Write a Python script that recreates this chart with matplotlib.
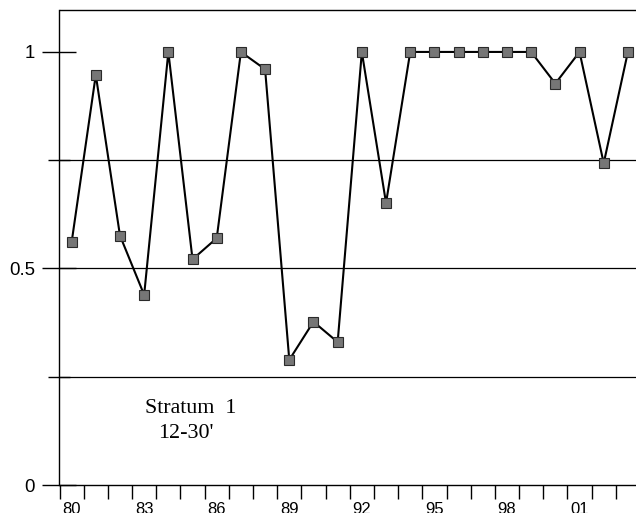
import matplotlib.pyplot as plt
from matplotlib.ticker import FixedLocator
import numpy as np

# survey years, one category per year
years = ["80", "81", "82", "83", "84", "85", "86", "87", "88", "89", "90", "91",
         "92", "93", "94", "95", "96", "97", "98", "99", "00", "01", "02", "03"]
values = [0.56, 0.947, 0.576, 0.439, 1.0, 0.521, 0.570, 1.0, 0.960, 0.289, 0.377, 0.330,
          1.0, 0.651, 1.0, 1.0, 1.0, 1.0, 1.0, 1.0, 0.927, 1.0, 0.743, 1.0]
label_years = ["80", "83", "86", "89", "92", "95", "98", "01"]
grid_levels = [0.25, 0.5, 0.75]

plt.rcParams['font.family'] = ['Liberation Sans', 'DejaVu Sans']

fig = plt.figure(figsize=(6.36, 5.13), dpi=100)
ax = fig.add_axes([59.5/636, 28/513, 580.5/636, 475.5/513])

x = np.arange(len(years))
ax.plot(x, values, color='black', lw=1.5, zorder=3,
        marker='s', markersize=6.5, markerfacecolor='#767676',
        markeredgecolor='#2a2a2a', markeredgewidth=0.8)

for g in grid_levels:
    ax.axhline(g, color='black', lw=0.9, zorder=1)

ax.set_xlim(-0.5, len(years) - 0.5)
ax.set_ylim(0, 1.098)

# x axis: ticks on year boundaries, labels every third year at the centers
ax.xaxis.set_minor_locator(FixedLocator(np.arange(len(years) + 1) - 0.5))
ax.set_xticks([years.index(y) for y in label_years])
ax.set_xticklabels(label_years, fontsize=12)
ax.tick_params(axis='x', which='major', length=0, pad=12)
ax.tick_params(axis='x', which='minor', direction='out', length=10, width=1)

# y axis
ax.set_yticks([0, 0.5, 1])
ax.set_yticklabels(["0", "0.5", "1"], fontsize=13.4)
ax.yaxis.set_minor_locator(FixedLocator([0.25, 0.75]))
ax.tick_params(axis='y', which='major', direction='inout', length=24, width=1, pad=5.8)
ax.tick_params(axis='y', which='minor', direction='inout', length=16, width=1)

ax.spines['right'].set_visible(False)
for s in ['left', 'top', 'bottom']:
    ax.spines[s].set_linewidth(1)

ax.text(3.04, 0.1755, "Stratum  1", family='Liberation Serif', fontsize=15.8,
        ha='left', va='center')
ax.text(3.58, 0.120, "12-30'", family='Liberation Serif', fontsize=15.8,
        ha='left', va='center')

fig.savefig("out.png", dpi=100)
